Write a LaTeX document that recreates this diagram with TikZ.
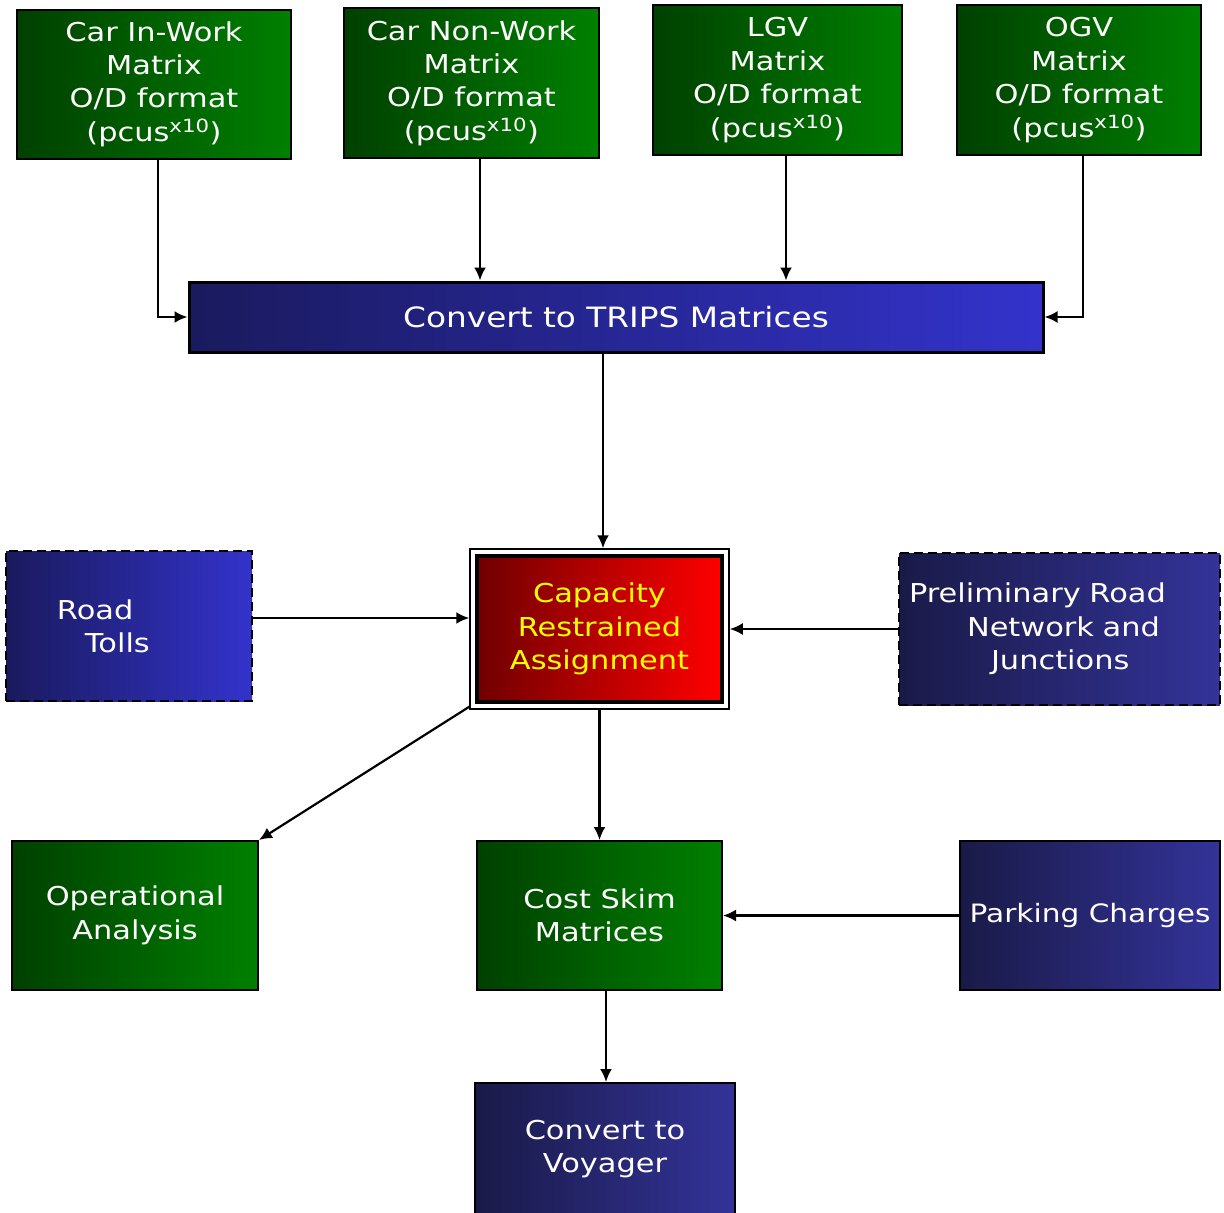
\documentclass[tikz,border=0pt]{standalone}
\usepackage{fontspec}
\setmainfont[FakeStretch=1.17]{DejaVu Sans}
\usetikzlibrary{arrows.meta,fit}
\definecolor{gdark}{RGB}{0,64,0}
\definecolor{glight}{RGB}{0,128,0}
\definecolor{bdark}{RGB}{26,26,94}
\definecolor{blight}{RGB}{51,51,204}
\definecolor{ndark}{RGB}{26,26,72}
\definecolor{nlight}{RGB}{51,51,153}
\definecolor{rdark}{RGB}{112,0,0}
\definecolor{rlight}{RGB}{255,0,0}
\definecolor{cyell}{RGB}{255,255,0}
\begin{document}
\begin{tikzpicture}[x=1pt,y=-1pt,
  box/.style={draw=black,line width=2pt,inner sep=0pt,text=white,align=center,
    font=\fontsize{26}{33.4}\selectfont},
  greenbox/.style={box,left color=gdark,right color=glight},
  bluebox/.style={box,left color=bdark,right color=blight},
  navybox/.style={box,left color=ndark,right color=nlight},
  dashbox/.style={line width=2.8pt,dash pattern=on 9pt off 5pt},
  link/.style={line width=2.2pt,-{Latex[length=13pt,width=12pt]}}]
\useasboundingbox (0,0) rectangle (1224,1213);

% source matrices
\node[greenbox,minimum width=274pt,minimum height=149pt] (ciw) at (154,84)
  {Car In-Work\\Matrix\\O/D format\\(pcus\textsuperscript{x10})};
\node[greenbox,minimum width=255pt,minimum height=150pt] (cnw) at (471.5,83)
  {Car Non-Work\\Matrix\\O/D format\\(pcus\textsuperscript{x10})};
\node[greenbox,minimum width=249pt,minimum height=150pt] (lgv) at (777.5,80)
  {LGV\\Matrix\\O/D format\\(pcus\textsuperscript{x10})};
\node[greenbox,minimum width=244pt,minimum height=150pt] (ogv) at (1079,80)
  {OGV\\Matrix\\O/D format\\(pcus\textsuperscript{x10})};

% conversion step
\node[bluebox,line width=3pt,minimum width=854pt,minimum height=70pt,
  font=\fontsize{28}{34}\selectfont] (trips) at (616,317)
  {Convert to TRIPS Matrices};

% assignment
\node[box,line width=3.5pt,left color=rdark,right color=rlight,text=cyell,
  minimum width=245pt,minimum height=146pt] (cap) at (599.5,629)
  {Capacity\\Restrained\\Assignment};
\node[draw=black,line width=2pt,inner sep=5pt,fit=(cap)] (capout) {};

% side inputs
\node[bluebox,dashbox,minimum width=246pt,minimum height=150pt,text width=246pt,align=left] (tolls) at (129,626)
  {\hspace*{51pt}Road\\\hspace*{79pt}Tolls};
\node[navybox,dashbox,minimum width=321pt,minimum height=152pt,text width=321pt,align=left] (prelim) at (1059.5,629)
  {\hspace*{10pt}Preliminary Road\\\hspace*{68pt}Network and\\\hspace*{92pt}Junctions};

% outputs
\node[greenbox,minimum width=246pt,minimum height=149pt] (oper) at (135,915.5)
  {Operational\\Analysis};
\node[greenbox,minimum width=245pt,minimum height=149pt] (cost) at (599.5,915.5)
  {Cost Skim\\Matrices};
\node[navybox,minimum width=260pt,minimum height=149pt,
  font=\fontsize{25.3}{33.4}\selectfont] (park) at (1090,915.5)
  {Parking Charges};
\node[navybox,minimum width=260pt,minimum height=132pt] (voy) at (605,1149)
  {Convert to\\Voyager};

% connectors
\draw[link] ([xshift=4pt]ciw.south) |- (trips.west);
\draw[link] ([xshift=4pt]ogv.south) |- (trips.east);
\draw[link] ([xshift=8.5pt]cnw.south) -- ([xshift=8.5pt]cnw.south |- trips.north);
\draw[link] ([xshift=8.5pt]lgv.south) -- ([xshift=8.5pt]lgv.south |- trips.north);
\draw[link] ([xshift=3.5pt]capout.north |- trips.south) -- ([xshift=3.5pt]capout.north);
\draw[link] ([yshift=8pt]tolls.east) -- ([yshift=8pt]tolls.east -| capout.west);
\draw[link] (prelim.west) -- (prelim.west -| capout.east);
\draw[link] ([yshift=3pt]capout.south west) -- (oper.north east);
\draw[link] (capout.south) -- (cost.north);
\draw[link] (park.west) -- (cost.east);
\draw[link] ([xshift=6.5pt]cost.south) -- ([xshift=6.5pt]cost.south |- voy.north);
\end{tikzpicture}
\end{document}
